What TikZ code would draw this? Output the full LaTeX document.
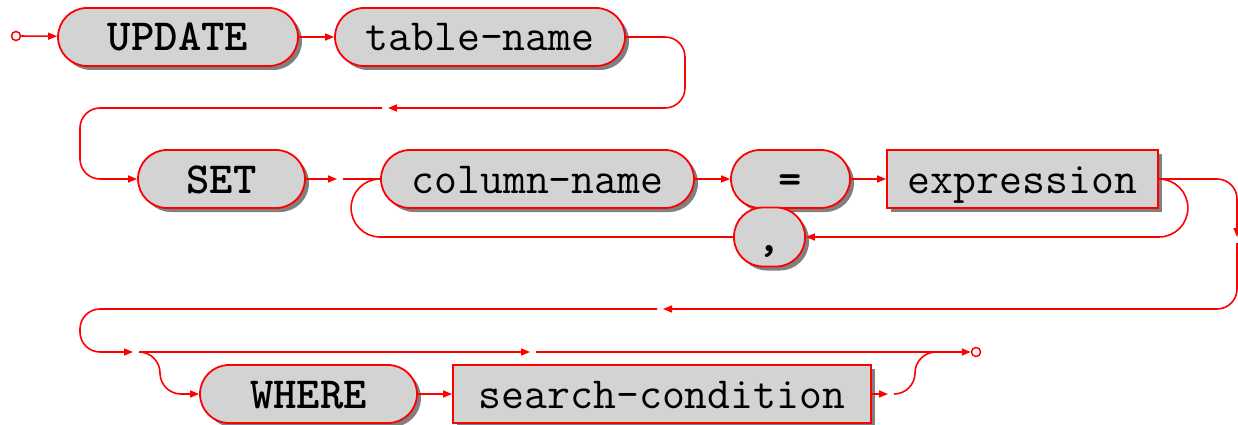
\documentclass[tikz,border=0pt]{standalone}
\usepackage{tikz}
\usetikzlibrary{arrows.meta,shadows}
\definecolor{railred}{HTML}{FF0000}
\definecolor{boxgray}{HTML}{D3D3D3}
\definecolor{shadegray}{HTML}{808080}

\begin{document}
\begin{tikzpicture}[x=1pt,y=-1pt,
  box/.style={draw=railred,line width=1.8pt,fill=boxgray,minimum height=58pt,inner sep=0pt,
    text height=28pt,text depth=0pt,font=\ttfamily\fontsize{44.5}{46}\selectfont,
    general shadow={fill=shadegray,shadow xshift=4pt,shadow yshift=-4pt}},
  kw/.style={box,rounded corners=29pt,font=\ttfamily\bfseries\fontsize{44.5}{46}\selectfont},
  ident/.style={box,rounded corners=29pt},
  ref/.style={box},
  dot/.style={circle,draw=railred,line width=1.5pt,fill=white,minimum size=9pt,inner sep=0pt},
  rail/.style={draw=railred,line width=1.6pt},
  arrow/.style={rail,-{Triangle[length=9pt,width=7pt]}}
]
\useasboundingbox (0,0) rectangle (1238,425);

\node[dot] (start) at (16,36) {};
\node[kw,minimum width=240] (update) at (178,37) {UPDATE};
\node[ident,minimum width=290] (tname) at (480,37) {table-name};

\node[kw,minimum width=167] (set) at (221.5,179) {SET};
\node[ident,minimum width=313] (cname) at (537.5,179) {column-name};
\node[kw,minimum width=119] (eq) at (790.5,179) {=};
\node[ref,minimum width=271] (expr) at (1022.5,179) {expression};
\node[kw,minimum width=71,minimum height=59] (comma) at (769.5,237) {,};

\node[kw,minimum width=217] (where) at (308.5,394) {WHERE};
\node[ref,minimum width=418] (scond) at (662,394) {search-condition};
\node[dot] (stop) at (976,352) {};

\coordinate (ne) at (685,108);
\coordinate (r1) at (388,108);
\coordinate (r1b) at (382,108);
\coordinate (nw) at (80,108);
\coordinate (j1) at (337,179);
\coordinate (j1b) at (343,179);
\coordinate (d1) at (1237,237);
\coordinate (d1b) at (1237,243);
\coordinate (b1) at (663,309);
\coordinate (b1b) at (657,309);
\coordinate (sw) at (80,309);
\coordinate (c1) at (133,352);
\coordinate (c1b) at (139,352);
\coordinate (m1) at (530,352);
\coordinate (m1b) at (536,352);
\coordinate (e1) at (888,394);
\coordinate (e1b) at (894,394);
\coordinate (e2) at (940,352);

\draw[arrow] (start) -- (update);
\draw[arrow] (update) -- (tname);
\draw[arrow,rounded corners=20] (tname.east) -| (ne) -- (r1);
\draw[arrow,rounded corners=20] (r1b) -- (nw) |- (set.west);

\draw[arrow] (set) -- (j1);
\draw[rail] (j1b) -- (cname);
\draw[arrow] (cname) -- (eq);
\draw[arrow] (eq) -- (expr);
\draw[arrow] (expr.east) arc[start angle=-90,end angle=90,radius=29] -- (comma.east);
\draw[rail] (comma.west) -- (cname.west |- comma.west) arc[start angle=90,end angle=270,radius=29];

\draw[arrow,rounded corners=20] (expr.east) -| (d1);
\draw[arrow,rounded corners=20] (d1b) |- (b1);
\draw[arrow,rounded corners=20] (b1b) -- (sw) |- (c1);

\draw[arrow] (c1b) -- (m1);
\draw[arrow] (m1b) -- (stop);
\draw[arrow] (c1b) arc[start angle=-90,end angle=0,radius=21] arc[start angle=180,end angle=90,radius=21] -- (where.west);
\draw[arrow] (where) -- (scond);
\draw[arrow] (scond) -- (e1);
\draw[rail] (e1b) arc[start angle=90,end angle=0,radius=21] arc[start angle=180,end angle=270,radius=21] -- (e2);
\end{tikzpicture}
\end{document}
